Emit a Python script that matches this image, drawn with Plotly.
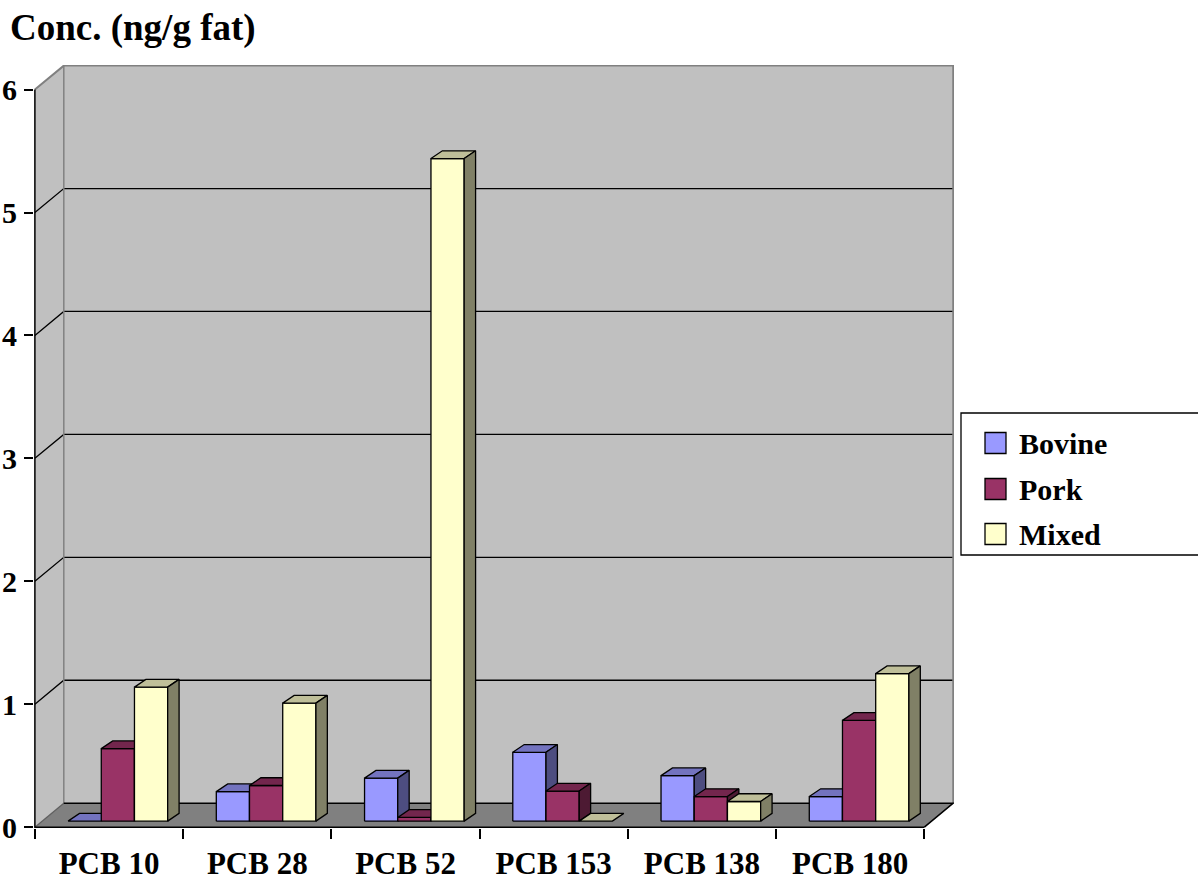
import plotly.graph_objects as go

# ---- data -------------------------------------------------------------
categories = ["PCB 10", "PCB 28", "PCB 52", "PCB 153", "PCB 138", "PCB 180"]
series_names = ["Bovine", "Pork", "Mixed"]
bovine = [0.0, 0.24, 0.35, 0.56, 0.37, 0.20]
pork = [0.59, 0.29, 0.03, 0.245, 0.20, 0.82]
mixed = [1.09, 0.96, 5.39, 0.0, 0.16, 1.20]
y_ticks = [0, 1, 2, 3, 4, 5, 6]
y_title = "Conc. (ng/g fat)"

# face colours for each series: front, top, side
face_colors = {
    "Bovine": ("#9999FF", "#7373BF", "#4D4D80"),
    "Pork": ("#993366", "#73264D", "#4D1A33"),
    "Mixed": ("#FFFFCC", "#BFBF99", "#808066"),
}

# ---- oblique 3-D geometry (axis units) --------------------------------
DEPTH = 0.195          # offset of the back wall along x and y
BAR_W = 0.224          # width of one column
CLUSTER_LEFT = 0.175   # gap before the first column of a group
BAR_Z = 0.25           # columns stand at this fraction of the floor depth
BAR_DX, BAR_DY = 0.077, 0.063  # column depth
N = len(categories)
YMAX = y_ticks[-1]

FONT = "Liberation Serif"
X_RANGE = [-0.006, N + 0.2]
Y_RANGE = [-0.007, YMAX + 0.2]
L, R, T, B = 34, 244, 65, 54
W, H = 1198, 882


def px_x(p):
    return (p - L) / (W - L - R)


def px_y(p):
    return (H - B - p) / (H - T - B)


fig = go.Figure()

# ---- columns ----------------------------------------------------------
base = BAR_Z * DEPTH
values = {"Bovine": bovine, "Pork": pork, "Mixed": mixed}
for j, name in enumerate(series_names):
    front_x, front_y, top_x, top_y, side_x, side_y = [], [], [], [], [], []
    for i, v in enumerate(values[name]):
        xl = i + CLUSTER_LEFT + j * BAR_W + BAR_Z * DEPTH
        xr = xl + BAR_W
        yt = base + v
        if v > 0:
            front_x += [xl, xr, xr, xl, xl, None]
            front_y += [base, base, yt, yt, base, None]
            side_x += [xr, xr + BAR_DX, xr + BAR_DX, xr, xr, None]
            side_y += [base, base + BAR_DY, yt + BAR_DY, yt, base, None]
        top_x += [xl, xr, xr + BAR_DX, xl + BAR_DX, xl, None]
        top_y += [yt, yt, yt + BAR_DY, yt + BAR_DY, yt, None]
    front, top, side = face_colors[name]
    for xs, ys, col in ((front_x, front_y, front), (top_x, top_y, top), (side_x, side_y, side)):
        fig.add_trace(go.Scatter(
            x=xs, y=ys, mode="lines", fill="toself", fillcolor=col,
            line=dict(color="black", width=1.3), name=name,
            showlegend=False, hoverinfo="skip",
        ))

# ---- walls, floor and grid -------------------------------------------
D = DEPTH
shapes = [
    dict(type="path", path=f"M 0,0 L 0,{YMAX} L {D},{YMAX + D} L {D},{D} Z",
         fillcolor="#C0C0C0", line=dict(width=0)),
    dict(type="rect", x0=D, y0=D, x1=N + D, y1=YMAX + D,
         fillcolor="#C0C0C0", line=dict(width=0)),
    dict(type="path", path=f"M 0,0 L {N},0 L {N + D},{D} L {D},{D} Z",
         fillcolor="#808080", line=dict(width=0)),
]
for v in y_ticks[1:-1]:
    shapes.append(dict(type="path", path=f"M 0,{v} L {D},{v + D} L {N + D},{v + D}",
                       line=dict(color="black", width=1.3)))
shapes += [
    dict(type="path", path=f"M 0,{YMAX} L {D},{YMAX + D} L {N + D},{YMAX + D} L {N + D},{D}",
         line=dict(color="#808080", width=2)),
    dict(type="path", path=f"M {D},{D} L {D},{YMAX + D}",
         line=dict(color="#808080", width=1.5)),
    dict(type="path", path=f"M 0,0 L {D},{D}", line=dict(color="#606060", width=1.3)),
    dict(type="path", path=f"M {D},{D} L {N + D},{D} L {N},0",
         line=dict(color="black", width=1.5)),
    dict(type="path", path=f"M 0,{YMAX} L 0,0 L {N},0",
         line=dict(color="black", width=1.5)),
]
for s in shapes:
    s.update(xref="x", yref="y", layer="below")

# ---- legend box -------------------------------------------------------
legend_y = [443, 489, 534]
shapes.append(dict(type="rect", xref="paper", yref="paper",
                   x0=px_x(961), x1=px_x(1210), y0=px_y(555), y1=px_y(413),
                   fillcolor="white", line=dict(color="black", width=1.3), layer="above"))
annotations = []
for name, yc in zip(series_names, legend_y):
    shapes.append(dict(type="rect", xref="paper", yref="paper",
                       x0=px_x(985), x1=px_x(1006), y0=px_y(yc + 10.5), y1=px_y(yc - 10.5),
                       fillcolor=face_colors[name][0], line=dict(color="black", width=1.3),
                       layer="above"))
    annotations.append(dict(xref="paper", yref="paper", x=px_x(1017), y=px_y(yc),
                            xanchor="left", yanchor="middle", text=name, showarrow=False,
                            font=dict(family=FONT, size=30, color="black", weight="bold")))

annotations.append(dict(xref="paper", yref="paper", x=px_x(8), y=px_y(28),
                        xanchor="left", yanchor="middle", text=y_title, showarrow=False,
                        font=dict(family=FONT, size=37, color="black", weight="bold")))

fig.update_layout(
    width=W, height=H,
    margin=dict(l=L, r=R, t=T, b=B, autoexpand=False),
    paper_bgcolor="white", plot_bgcolor="white",
    shapes=shapes, annotations=annotations,
    showlegend=False,
    xaxis=dict(
        range=X_RANGE, showgrid=False, zeroline=False, showline=False,
        tickmode="array", tickvals=[i + 0.5 for i in range(N)], ticktext=categories,
        ticks="outside", ticklen=8, tickcolor="rgba(0,0,0,0)",
        ticklabelstandoff=0,
        tickfont=dict(family=FONT, size=31, color="black", weight="bold"),
        minor=dict(tickmode="array", tickvals=list(range(N + 1)), ticks="outside",
                   ticklen=10, tickwidth=1.5, tickcolor="black", showgrid=False),
        fixedrange=True, automargin=False,
    ),
    yaxis=dict(
        range=Y_RANGE, showgrid=False, zeroline=False, showline=False,
        tickmode="array", tickvals=y_ticks,
        ticks="outside", ticklen=9, tickwidth=1.5, tickcolor="black",
        ticklabelstandoff=1,
        tickfont=dict(family=FONT, size=30, color="black", weight="bold"),
        fixedrange=True, automargin=False,
    ),
)

fig.write_html("out.html")
